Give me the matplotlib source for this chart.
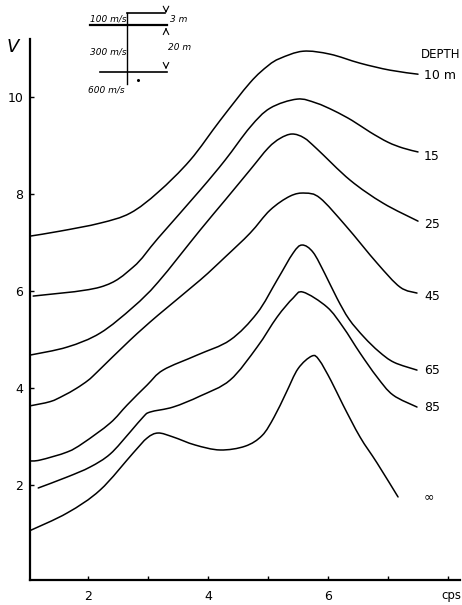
import matplotlib
matplotlib.use("Agg")
import matplotlib.pyplot as plt
from matplotlib.path import Path
from matplotlib.patches import PathPatch

# ---------------- data (frequency in cps, phase velocity V) ----------------
x_10 = [1.033, 1.533, 2.2, 2.7, 3.167, 3.7, 4.2, 4.7, 5.0, 5.2, 5.583, 6.033, 6.533, 7.033, 7.5]
v_10 = [7.134, 7.237, 7.402, 7.608, 8.041, 8.70, 9.52, 10.30, 10.65, 10.80, 10.948, 10.887, 10.701, 10.557, 10.474]

x_15 = [1.083, 2.2, 2.75, 3.167, 3.867, 4.283, 4.7, 5.033, 5.483, 5.8, 6.1, 6.4, 6.7, 7.0, 7.25, 7.5]
v_15 = [5.897, 6.082, 6.495, 7.093, 8.082, 8.701, 9.381, 9.773, 9.96, 9.88, 9.72, 9.52, 9.28, 9.07, 8.95, 8.87]

x_25 = [1.033, 1.65, 2.2, 2.75, 3.167, 3.867, 4.283, 4.7, 5.0, 5.2, 5.4, 5.6, 5.817, 6.367, 6.917, 7.5]
v_25 = [4.680, 4.845, 5.134, 5.670, 6.186, 7.258, 7.876, 8.50, 8.95, 9.15, 9.24, 9.16, 8.93, 8.289, 7.814, 7.443]

x_45 = [1.017, 1.367, 1.583, 1.8, 2.0, 2.15, 2.7, 3.167, 3.867, 4.283, 4.7, 5.033, 5.367, 5.617, 5.867, 6.3, 6.817, 7.2, 7.483]
v_45 = [3.629, 3.72, 3.84, 3.99, 4.16, 4.33, 4.990, 5.505, 6.227, 6.701, 7.196, 7.670, 7.959, 8.021, 7.918, 7.340, 6.577, 6.082, 5.959]

x_65 = [1.017, 1.2, 1.65, 1.917, 2.367, 2.65, 2.983, 3.25, 3.817, 4.367, 4.817, 5.15, 5.417, 5.567, 5.75, 5.95, 6.15, 6.35, 6.6, 6.85, 7.1, 7.483]
v_65 = [2.495, 2.515, 2.680, 2.866, 3.278, 3.650, 4.062, 4.371, 4.680, 4.990, 5.546, 6.227, 6.784, 6.95, 6.80, 6.35, 5.85, 5.42, 5.05, 4.75, 4.53, 4.37]

x_85 = [1.167, 1.65, 2.033, 2.367, 2.7, 2.917, 3.033, 3.417, 3.867, 4.367, 4.817, 5.15, 5.417, 5.583, 5.983, 6.25, 6.533, 6.817, 7.083, 7.483]
v_85 = [1.938, 2.165, 2.371, 2.639, 3.093, 3.402, 3.505, 3.608, 3.835, 4.165, 4.845, 5.464, 5.856, 5.979, 5.670, 5.258, 4.722, 4.227, 3.856, 3.608]

x_inf = [1.017, 1.65, 2.2, 2.75, 2.983, 3.167, 3.417, 3.783, 4.2, 4.617, 4.9, 5.1, 5.3, 5.5, 5.73, 5.85, 6.05, 6.25, 6.533, 6.817, 7.167]
v_inf = [1.052, 1.423, 1.897, 2.660, 2.969, 3.072, 2.990, 2.825, 2.722, 2.80, 3.02, 3.40, 3.90, 4.40, 4.66, 4.58, 4.15, 3.65, 2.990, 2.454, 1.753]

depth_labels = ["10 m", "15", "25", "45", "65", "85", "\u221e"]
label_v = [10.45, 8.78, 7.38, 5.88, 4.37, 3.6, 1.75]

x_ticks_major = [2, 4, 6]
x_ticks_minor = [3, 5, 7, 8]
y_ticks = [2, 4, 6, 8, 10]

curves = [(x_10, v_10), (x_15, v_15), (x_25, v_25), (x_45, v_45),
          (x_65, v_65), (x_85, v_85), (x_inf, v_inf)]


def smooth_path(xs, ys):
    """Catmull-Rom curve through the given points, drawn as cubic Bezier segments."""
    pts = list(zip(xs, ys))
    n = len(pts)
    verts = [pts[0]]
    codes = [Path.MOVETO]
    for i in range(n - 1):
        p0 = pts[i - 1] if i > 0 else pts[i]
        p1 = pts[i]
        p2 = pts[i + 1]
        p3 = pts[i + 2] if i + 2 < n else pts[i + 1]
        c1 = (p1[0] + (p2[0] - p0[0]) / 6.0, p1[1] + (p2[1] - p0[1]) / 6.0)
        c2 = (p2[0] - (p3[0] - p1[0]) / 6.0, p2[1] - (p3[1] - p1[1]) / 6.0)
        verts += [c1, c2, p2]
        codes += [Path.CURVE4] * 3
    return Path(verts, codes)


# ---------------- figure ----------------
W, H = 462, 605
fig = plt.figure(figsize=(W / 100, H / 100), dpi=100)
fig.patch.set_facecolor("white")

ax = fig.add_axes([30 / W, 25 / H, 430 / W, 541 / H])
ax.set_xlim(1.03, 8.2)
ax.set_ylim(0.04, 11.2)

for xs, vs in curves:
    ax.add_patch(PathPatch(smooth_path(xs, vs), facecolor="none",
                           edgecolor="black", lw=1.1, capstyle="round"))

for s in ["top", "right"]:
    ax.spines[s].set_visible(False)
for s in ["left", "bottom"]:
    ax.spines[s].set_linewidth(1.6)
    ax.spines[s].set_color("black")

ax.set_xticks(x_ticks_major)
ax.set_xticklabels([str(t) for t in x_ticks_major], fontsize=9)
ax.set_xticks(x_ticks_minor, minor=True)
ax.set_yticks(y_ticks)
ax.set_yticklabels([str(t) for t in y_ticks], fontsize=9)
ax.tick_params(axis="both", which="both", direction="in", length=3, width=1, colors="black")
ax.tick_params(axis="x", pad=7)
ax.tick_params(axis="y", pad=5)

# axis labels
fig.text(461 / W, 1 - 596 / H, "cps", fontsize=8.5, ha="right", va="center")
fig.text(13 / W, 1 - 47 / H, "V", fontsize=13, style="italic", ha="center", va="center")

# depth labels on the right
fig.text(460 / W, 1 - 54 / H, "DEPTH", fontsize=8.5, ha="right", va="center")
for lab, yv in zip(depth_labels, label_v):
    ax.text(7.6, yv, lab, fontsize=9, ha="left", va="center", clip_on=False)

# ---------------- layered-model sketch (top-left) ----------------
ins = fig.add_axes([85 / W, 1 - 100 / H, 110 / W, 95 / H])
ins.set_xlim(85, 195)
ins.set_ylim(100, 5)
ins.axis("off")
ins.plot([127, 165], [13, 13], color="black", lw=1.2)
ins.plot([90, 167], [25, 25], color="black", lw=1.6)
ins.plot([100, 167], [72, 72], color="black", lw=1.2)
ins.plot([127, 127], [13, 84], color="black", lw=1.0)
ins.annotate("", xy=(166, 13), xytext=(166, 8),
             arrowprops=dict(arrowstyle="->", lw=0.8, color="black"))
ins.annotate("", xy=(166, 25), xytext=(166, 32),
             arrowprops=dict(arrowstyle="->", lw=0.8, color="black"))
ins.annotate("", xy=(166, 72), xytext=(166, 64),
             arrowprops=dict(arrowstyle="->", lw=0.8, color="black"))
ins.plot([138], [80], marker="o", ms=1.2, color="black")
ins.text(90, 19, "100 m/s", fontsize=6.5, style="italic", va="center", ha="left")
ins.text(170, 20, "3 m", fontsize=6.5, style="italic", va="center", ha="left")
ins.text(90, 52, "300 m/s", fontsize=6.5, style="italic", va="center", ha="left")
ins.text(168, 48, "20 m", fontsize=6.5, style="italic", va="center", ha="left")
ins.text(88, 90, "600 m/s", fontsize=6.5, style="italic", va="center", ha="left")

fig.savefig("out.png", dpi=100, facecolor="white")
